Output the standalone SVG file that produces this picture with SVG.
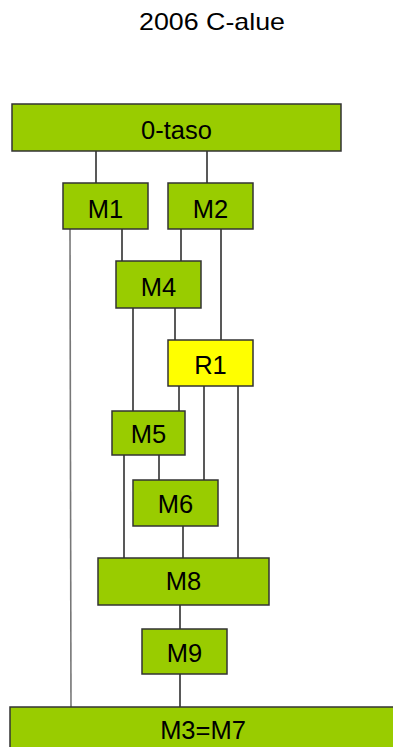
<svg xmlns="http://www.w3.org/2000/svg" width="393" height="747" viewBox="0 0 393 747">
<style>
.box{fill:#99CC00;stroke:#333;stroke-width:1.5}
.yel{fill:#FFFF00;stroke:#333;stroke-width:1.5}
.lbl{font-family:"Liberation Sans",Arial,sans-serif;font-size:25.5px;fill:#000;text-anchor:middle}
.ln{stroke:#222;stroke-width:1.5;fill:none}
.lg{stroke:#777;stroke-width:1.6;fill:none}
</style>
<rect width="393" height="747" fill="#fff"/>
<text x="212" y="30" class="lbl" style="font-size:24px" textLength="146" lengthAdjust="spacingAndGlyphs">2006 C-alue</text>
<g id="connectors">
<line class="ln" x1="96" y1="151" x2="96" y2="183"/>
<line class="ln" x1="207" y1="151" x2="207" y2="183"/>
<line class="lg" x1="70" y1="229" x2="71" y2="707"/>
<line class="ln" x1="122" y1="229" x2="122" y2="261"/>
<line class="ln" x1="181" y1="229" x2="181" y2="261"/>
<line class="ln" x1="221" y1="229" x2="221" y2="340"/>
<line class="ln" x1="133" y1="308" x2="133" y2="411"/>
<line class="ln" x1="175" y1="308" x2="175" y2="340"/>
<line class="ln" x1="179" y1="386" x2="179" y2="411"/>
<line class="ln" x1="204" y1="386" x2="204" y2="480"/>
<line class="ln" x1="238" y1="386" x2="238" y2="558"/>
<line class="ln" x1="124" y1="455" x2="124" y2="558"/>
<line class="ln" x1="159" y1="455" x2="159" y2="480"/>
<line class="ln" x1="183" y1="526" x2="183" y2="558"/>
<line class="ln" x1="180" y1="605" x2="180" y2="629"/>
<line class="ln" x1="180" y1="674" x2="180" y2="707"/>
</g>
<g id="n0"><rect class="box" x="12" y="104" width="329" height="47"/><text class="lbl" x="176.5" y="139">0-taso</text></g>
<g id="m1"><rect class="box" x="63" y="183" width="85" height="46"/><text class="lbl" x="105.5" y="218">M1</text></g>
<g id="m2"><rect class="box" x="168" y="183" width="85" height="46"/><text class="lbl" x="210.5" y="218">M2</text></g>
<g id="m4"><rect class="box" x="116" y="261" width="85" height="47"/><text class="lbl" x="158.5" y="296">M4</text></g>
<g id="r1"><rect class="yel" x="168" y="340" width="85" height="46"/><text class="lbl" x="210.5" y="374">R1</text></g>
<g id="m5"><rect class="box" x="112" y="411" width="73" height="44"/><text class="lbl" x="148.5" y="443">M5</text></g>
<g id="m6"><rect class="box" x="133" y="480" width="85" height="46"/><text class="lbl" x="175.5" y="513">M6</text></g>
<g id="m8"><rect class="box" x="98" y="558" width="171" height="47"/><text class="lbl" x="183.5" y="590">M8</text></g>
<g id="m9"><rect class="box" x="142" y="629" width="85" height="45"/><text class="lbl" x="184.5" y="662">M9</text></g>
<g id="m3m7"><rect class="box" x="10" y="707" width="386" height="50"/><text class="lbl" x="203" y="739">M3=M7</text></g>
</svg>
